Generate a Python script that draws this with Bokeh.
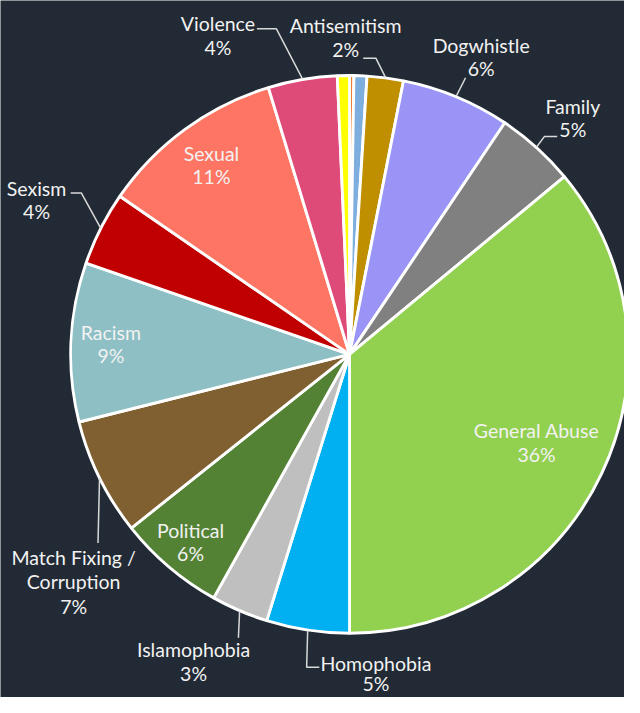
import numpy as np
from bokeh.plotting import figure
from bokeh.models import Range1d
from bokeh.core.properties import value
from bokeh.embed import file_html
from bokeh.resources import INLINE

# ---------------- data ----------------
categories = ["Other A", "Other B", "Antisemitism", "Dogwhistle", "Family", "General Abuse",
              "Homophobia", "Islamophobia", "Political", "Match Fixing / Corruption",
              "Racism", "Sexism", "Sexual", "Violence", "Other C"]
shares = [0.25, 0.75, 2.1, 6.3, 4.6, 36.0, 4.8, 3.3, 6.2, 6.8, 9.2, 4.3, 10.7, 4.0, 0.7]

# ---------------- style / layout ----------------
colors = ["#ED7D31", "#7DAEDE", "#BF8F00", "#9B94F7", "#808080", "#92D050", "#00B0F0",
          "#BFBFBF", "#548235", "#806030", "#8DBFC4", "#C00000", "#FF7563", "#DF4B78", "#FFFF00"]
BG = "#222A35"
TXT = "#F2F2F2"
FONT = "Lato"
FS = "19.5px"
W, H = 624, 697            # figure size (page margin 8px)
SW, SH = 640, 713          # design space the layout below is expressed in
CX, CY, R = 358, 362, 286  # pie centre & radius in design space
LINE = 24

# labels drawn inside the slice: radius of the label block centre
inside = {"General Abuse": 212, "Racism": 245, "Political": 252, "Sexual": 240}
# labels outside: (centre x, first line y), leader points from label towards pie
outside = {
    "Violence": ((223, 24), [(263, 29), (283, 29)]),
    "Antisemitism": ((354, 26), [(372, 59), (385, 59)]),
    "Dogwhistle": ((493, 46), [(477, 79)]),
    "Family": ((587, 108), [(571, 139), (558, 139)]),
    "Sexism": ((37, 192), [(72, 197), (83, 197)]),
    "Match Fixing / Corruption": ((75, 570), [(100, 555)]),
    "Islamophobia": ((198, 664), [(244, 652)]),
    "Homophobia": ((385, 678), [(327, 682), (314, 682)]),
}
line_gap = {"Homophobia": 21}
wrapped = {"Match Fixing / Corruption"}


def dx(sx):
    return sx - CX


def dy(sy):
    return CY - sy


vals = np.array(shares, dtype=float)
frac = vals / vals.sum()
cum = np.concatenate([[0.0], np.cumsum(frac)])
start = np.pi / 2 - 2 * np.pi * cum[:-1]
end = np.pi / 2 - 2 * np.pi * cum[1:]
mid = (cum[:-1] + cum[1:]) / 2 * 2 * np.pi  # clockwise from 12 o'clock

p = figure(width=W, height=H, output_backend="svg", toolbar_location=None,
           x_range=Range1d(dx(0), dx(SW)), y_range=Range1d(dy(SH), dy(0)),
           x_axis_location=None, y_axis_location=None, min_border=0)
p.grid.visible = False
p.outline_line_color = None
p.background_fill_color = BG
p.border_fill_color = BG

p.wedge(x=0, y=0, radius=R, start_angle=list(start), end_angle=list(end), direction="clock",
        fill_color=colors, line_color="white", line_width=2.9)

tx, ty, tt = [], [], []
lxs, lys = [], []
for i, name in enumerate(categories):
    pct = f"{round(shares[i])}%"
    th = mid[i]
    if name in inside:
        r = inside[name]
        cx, cy = CX + r * np.sin(th), CY - r * np.cos(th)
        tx += [dx(cx), dx(cx)]
        ty += [dy(cy - LINE / 2), dy(cy + LINE / 2)]
        tt += [name, pct]
    elif name in outside:
        (lx, ly), pts = outside[name]
        if name in wrapped:
            k = name.index("/") + 1
            lines = [name[:k], name[k:].strip()]
        else:
            lines = [name]
        lines.append(pct)
        gap = line_gap.get(name, LINE)
        for j, s in enumerate(lines):
            tx.append(dx(lx))
            ty.append(dy(ly + j * gap + (2 if j == len(lines) - 1 and len(lines) > 2 else 0)))
            tt.append(s)
        ex, ey = CX + R * np.sin(th), CY - R * np.cos(th)
        lxs.append([dx(a) for a, b in pts] + [dx(ex)])
        lys.append([dy(b) for a, b in pts] + [dy(ey)])

p.multi_line(xs=lxs, ys=lys, line_color="#D9D9D9", line_width=1.5)
p.text(x=tx, y=ty, text=tt, text_font=value(FONT), text_font_size=FS, text_color=TXT,
       text_align="center", text_baseline="middle")

html = file_html(p, INLINE)
html = html.replace("<body>", '<body style="background-color:%s;">' % BG, 1)
open("out.html", "w").write(html)
